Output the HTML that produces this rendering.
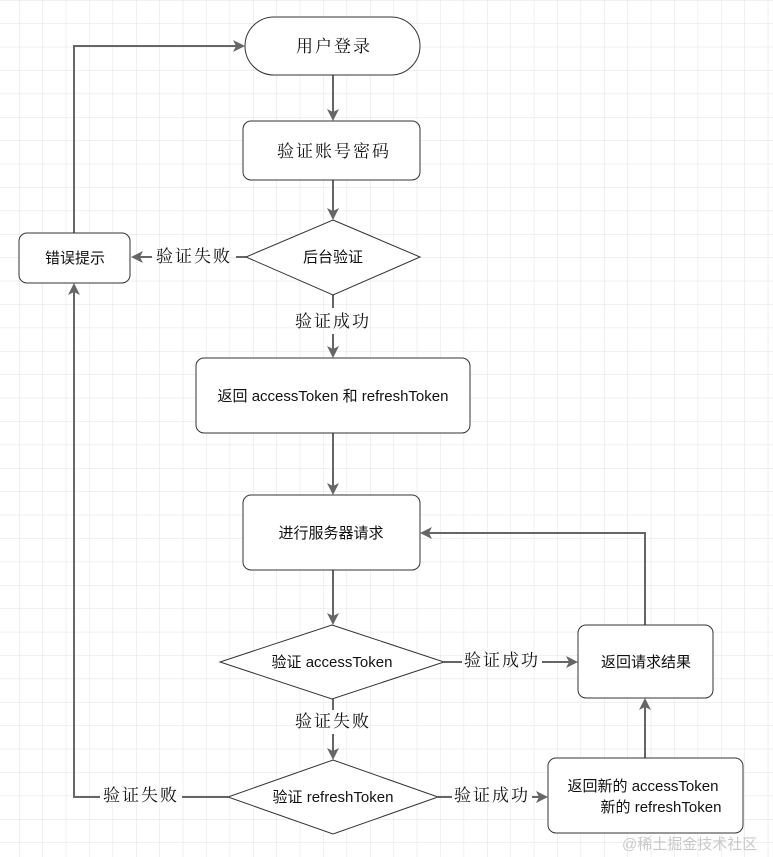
<!DOCTYPE html>
<html><head><meta charset="utf-8"><style>
html,body{margin:0;padding:0;background:#fff}
svg{display:block}
.s{font-family:"Liberation Sans","Noto Sans CJK SC",sans-serif;font-size:15px;fill:#111}
.f{font-family:"Liberation Serif","Noto Serif CJK SC","Noto Sans CJK SC",serif;font-size:17px;fill:#111;letter-spacing:2px}
</style></head><body>
<svg width="773" height="857" viewBox="0 0 773 857" xmlns="http://www.w3.org/2000/svg">
<defs>
<pattern id="g" x="19" y="0" width="23.4" height="23.4" patternUnits="userSpaceOnUse">
<path d="M0 0V23.4M0 0H23.4" stroke="#e2e2e2" stroke-width="1" fill="none"/>
</pattern>
<marker id="a" markerWidth="12" markerHeight="12" refX="10" refY="6" orient="auto" markerUnits="userSpaceOnUse">
<path d="M0,0 L12,6 L0,12 L3,6 Z" fill="#666"/>
</marker>
</defs>
<rect width="773" height="857" fill="url(#g)"/>
<g stroke="#666" stroke-width="2" fill="none">
<path d="M333 75V119" marker-end="url(#a)"/>
<path d="M333 180V218" marker-end="url(#a)"/>
<path d="M246 257H236M152 257H133" marker-end="url(#a)"/>
<path d="M74 233V46H243" marker-end="url(#a)"/>
<path d="M333 295V308M333 334V356" marker-end="url(#a)"/>
<path d="M333 433V493" marker-end="url(#a)"/>
<path d="M333 570V623" marker-end="url(#a)"/>
<path d="M444 662H462M542 662H576" marker-end="url(#a)"/>
<path d="M645 625V533H422" marker-end="url(#a)"/>
<path d="M333 699V710M333 734V758" marker-end="url(#a)"/>
<path d="M438 797H452M532 797H546" marker-end="url(#a)"/>
<path d="M645 758V700" marker-end="url(#a)"/>
<path d="M228 797H182M100 797H74V285" marker-end="url(#a)"/>
</g>
<g stroke="#333" stroke-width="1" fill="#fff">
<rect x="245" y="17" width="175" height="58" rx="29"/>
<rect x="243" y="121" width="177" height="59" rx="8"/>
<path d="M333 220L420 257L333 295L246 257Z"/>
<rect x="19" y="233" width="111" height="50" rx="8"/>
<rect x="196" y="358" width="274" height="75" rx="8"/>
<rect x="243" y="495" width="177" height="75" rx="8"/>
<path d="M332 625L444 662L332 699L220 662Z"/>
<rect x="578" y="625" width="135" height="73" rx="8"/>
<path d="M333 760L438 797L333 834L228 797Z"/>
<rect x="548" y="758" width="195" height="75" rx="8"/>
</g>
<g text-anchor="middle">
<text class="f" x="334" y="52">用户登录</text>
<text class="f" x="334" y="157">验证账号密码</text>
<text class="s" x="333" y="262">后台验证</text>
<text class="s" x="75" y="263">错误提示</text>
<text class="f" x="194" y="262">验证失败</text>
<text class="f" x="333" y="327">验证成功</text>
<text class="s" x="333" y="401">返回 accessToken 和 refreshToken</text>
<text class="s" x="331" y="538">进行服务器请求</text>
<text class="s" x="332" y="667">验证 accessToken</text>
<text class="f" x="502" y="666">验证成功</text>
<text class="s" x="646" y="667">返回请求结果</text>
<text class="f" x="333" y="727">验证失败</text>
<text class="s" x="333" y="802">验证 refreshToken</text>
<text class="f" x="492" y="801">验证成功</text>
<text class="f" x="141" y="801">验证失败</text>
<text class="s" x="643" y="791">返回新的 accessToken</text>
<text class="s" x="661" y="812">新的 refreshToken</text>
</g>
<text x="622" y="849" style="font-family:'Liberation Sans','Noto Sans CJK SC',sans-serif;font-size:15px;fill:#c8c8c8">@稀土掘金技术社区</text>
</svg>
</body></html>
